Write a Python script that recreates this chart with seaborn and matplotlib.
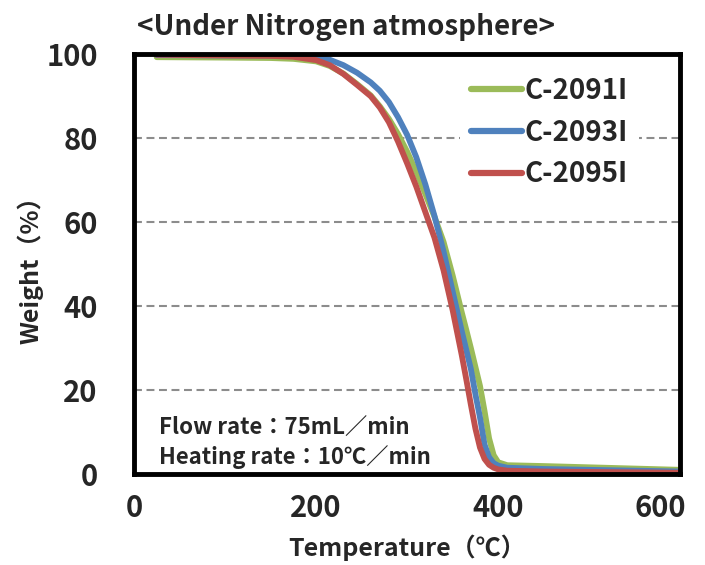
import matplotlib
matplotlib.use("Agg")
import matplotlib.pyplot as plt
import matplotlib.transforms as mtransforms
import seaborn as sns
import pandas as pd

temperature = [25, 100, 150, 175, 200, 215, 230, 245, 260, 270, 280, 290, 300, 310,
               320, 330, 340, 350, 360, 365, 370, 375, 380, 385, 390, 395, 400, 410,
               450, 500, 600]
w_2091 = [99.3, 99.2, 99.1, 98.9, 98.3, 97.2, 95.4, 92.9, 90.2, 87.6, 84.6, 81.0, 76.8, 72.0,
          66.7, 61.3, 55.3, 47.3, 38.5, 34.3, 30.0, 25.5, 21.0, 15.0, 8.5, 4.5, 2.8, 2.1,
          1.9, 1.6, 1.0]
w_2093 = [99.8, 99.7, 99.7, 99.6, 99.3, 98.7, 97.4, 95.6, 93.3, 91.3, 88.6, 85.0, 80.8, 75.5,
          69.0, 61.5, 53.0, 43.5, 34.0, 29.5, 25.0, 19.0, 13.5, 7.0, 4.0, 2.6, 2.0, 1.5,
          1.2, 1.0, 0.6]
w_2095 = [99.9, 99.7, 99.6, 99.4, 98.6, 97.4, 95.3, 92.7, 90.0, 87.3, 83.8, 79.2, 74.0, 68.5,
          62.4, 56.3, 48.5, 39.0, 28.3, 22.5, 16.5, 10.8, 6.3, 3.6, 2.2, 1.5, 1.1, 0.8,
          0.6, 0.5, 0.3]
series_names = ["C-2091I", "C-2093I", "C-2095I"]
colors = ["#9BBB59", "#4F81BD", "#C0504D"]
x_ticks = [0, 200, 400, 600]
y_ticks = [0, 20, 40, 60, 80, 100]

rows = []
for name, vals in zip(series_names, [w_2091, w_2093, w_2095]):
    for t, w in zip(temperature, vals):
        rows.append({"Temperature": t, "Weight": w, "Sample": name})
df = pd.DataFrame(rows)

sns.set_theme(style="white")
fam = ["Noto Sans CJK JP", "DejaVu Sans"]
plt.rcParams["font.family"] = fam
plt.rcParams["font.weight"] = "bold"

fig = plt.figure(figsize=(7.05, 5.65), dpi=100)
ax = fig.add_axes([0.190, 0.161, 0.775, 0.743])

sns.lineplot(data=df, x="Temperature", y="Weight", hue="Sample",
             palette=dict(zip(series_names, colors)), linewidth=4.2,
             ax=ax, sort=False)
for ln in ax.get_lines():
    ln.set_solid_capstyle("round")
    ln.set_solid_joinstyle("round")

ax.set_xlim(0, 600)
ax.set_ylim(0, 100)
ax.set_xticks(x_ticks)
ax.set_yticks(y_ticks)
ax.tick_params(axis="x", labelsize=21, length=0, pad=14)
ax.tick_params(axis="y", labelsize=21, length=0, pad=26)
for lab in ax.get_xticklabels() + ax.get_yticklabels():
    lab.set_fontweight("bold")
last = ax.get_xticklabels()[-1]
last.set_transform(last.get_transform() +
                   mtransforms.ScaledTranslation(-20 / 100, 0, fig.dpi_scale_trans))

for y in [20, 40, 60, 80]:
    ax.axhline(y, color="#8C8C8C", linestyle=(0, (3.8, 2.2)), linewidth=1.5, zorder=0)

for sp in ax.spines.values():
    sp.set_visible(True)
    sp.set_color("black")
    sp.set_linewidth(3.5)

ax.set_xlabel("Temperature（℃）", fontsize=18, fontweight="bold", labelpad=8)
ax.set_ylabel("Weight（%）", fontsize=18, fontweight="bold", labelpad=2)

fig.text(0.194, 0.952, "<Under Nitrogen atmosphere>", fontsize=20,
         fontweight="bold", ha="left", va="center")

leg = ax.legend(loc="upper left", bbox_to_anchor=(0.596, 0.973), frameon=True,
                fontsize=20, handlelength=1.85, handletextpad=0.08,
                labelspacing=0.5, borderpad=0.4, borderaxespad=0)
leg.get_frame().set_facecolor("white")
leg.get_frame().set_edgecolor("none")
leg.get_frame().set_alpha(1)
for line in leg.get_lines():
    line.set_linewidth(4.5)
    line.set_solid_capstyle("round")
for t in leg.get_texts():
    t.set_fontweight("bold")

ax.text(0.045, 0.112, "Flow rate：75mL／min", transform=ax.transAxes,
        fontsize=16, fontweight="bold", ha="left", va="center")
ax.text(0.045, 0.040, "Heating rate：10℃／min", transform=ax.transAxes,
        fontsize=16, fontweight="bold", ha="left", va="center")

fig.savefig("out.png", dpi=100)
